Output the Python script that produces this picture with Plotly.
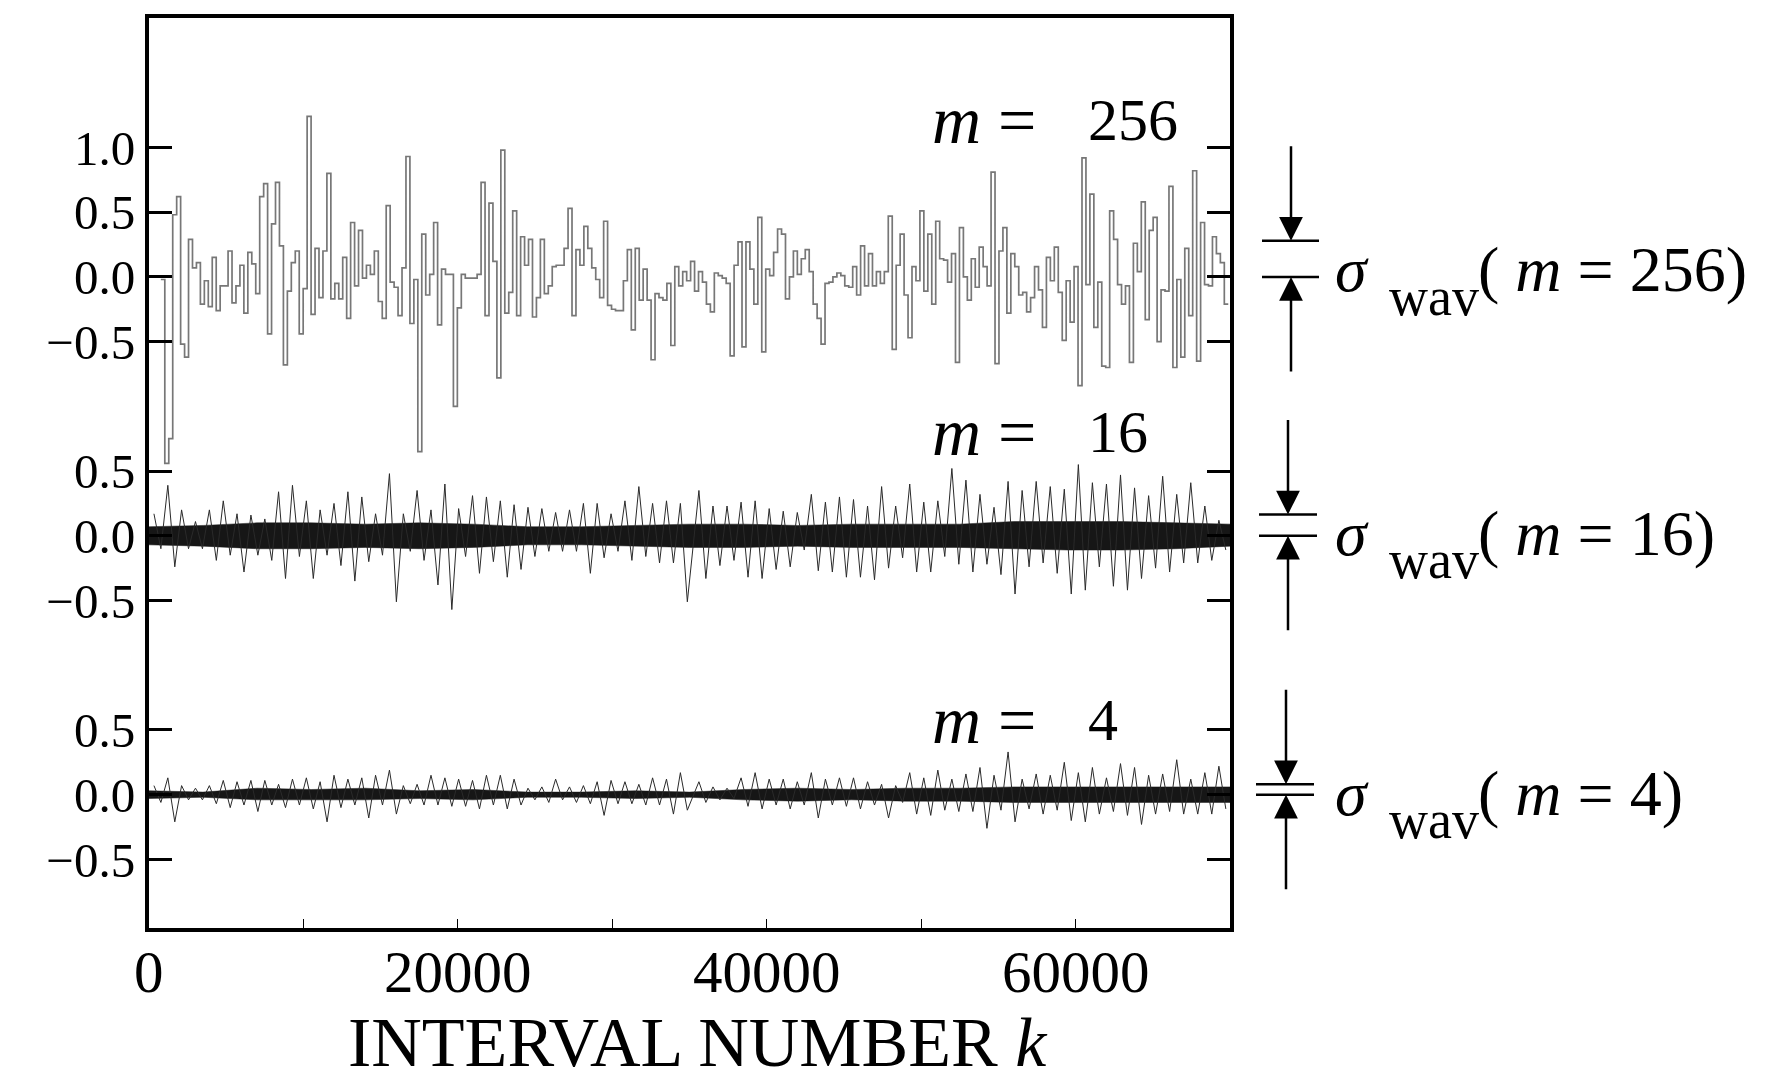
import plotly.graph_objects as go

# ---------------- data ----------------
K_MAX = 70000                      # interval-number axis end
M256_START_K = 768                 # first block of the m=256 trace
M256_STEP = 256                    # block length (m = 256)
M256_VALUES = [
    -0.02, -1.44, -1.25, 0.48, 0.62, -0.52, -0.62, 0.29, 0.07, 0.11,
    -0.21, -0.03, -0.23, 0.15, -0.26, -0.07, -0.07, 0.20, -0.20, -0.07,
    0.09, -0.28, 0.19, 0.10, -0.13, 0.62, 0.72, -0.44, 0.41, 0.73,
    0.24, -0.68, -0.11, 0.11, 0.20, -0.44, -0.09, 1.24, -0.29, 0.22,
    -0.16, 0.20, 0.80, -0.17, -0.05, -0.17, 0.15, -0.32, 0.42, -0.07,
    0.36, -0.01, 0.09, 0.02, 0.20, -0.19, -0.32, 0.55, -0.04, -0.08,
    -0.30, 0.07, 0.93, -0.36, -0.02, -1.35,
    0.33, -0.14, 0.02, 0.42, -0.37, 0.06, 0.02, 0.02, -1.00, -0.24,
    0.02, -0.01, -0.01, -0.01, 0.02, 0.73, -0.30, 0.57, 0.12, -0.78,
    0.98, -0.28, -0.12, 0.51, -0.30, 0.31, 0.09, 0.29, -0.31, -0.16,
    0.29, -0.13, -0.07, 0.08, 0.09, 0.09, 0.22, 0.53, -0.30, 0.21,
    0.09, 0.39, 0.22, 0.07, -0.02, -0.16, 0.43, -0.22, -0.25, -0.26,
    -0.26, -0.03, 0.21, -0.41, 0.22, -0.18, 0.06, -0.18, -0.64, -0.13,
    -0.16, -0.18, -0.05, -0.53, 0.08, -0.07, 0.04, -0.03,
    0.12, -0.11, 0.04, -0.04, -0.21, -0.27, 0.03, 0.01, -0.01, -0.05,
    -0.61, 0.09, 0.27, -0.54, 0.27, 0.06, -0.21, 0.46, -0.58, 0.06,
    0.01, 0.19, 0.37, 0.33, -0.17, 0.00, 0.20, 0.02, 0.14, 0.21,
    0.04, -0.21, -0.32, -0.52, -0.05, -0.04, 0.00, 0.03, 0.01, -0.07,
    -0.08, 0.08, -0.14, 0.24, -0.07, 0.18, -0.07, 0.04, -0.05, 0.04,
    0.47, -0.56, 0.09, 0.33, -0.14, -0.47, 0.08, -0.03, 0.51, -0.11,
    0.33, -0.21, 0.43, 0.14, 0.13, -0.04, 0.18, -0.66, 0.38,
    0.00, -0.18, 0.14, -0.08, 0.23, 0.08, -0.07, 0.81, -0.67, 0.20,
    0.38, -0.28, 0.18, 0.08, -0.14, -0.12, -0.27, -0.16, 0.08, -0.10,
    -0.39, 0.15, -0.03, 0.23, -0.12, -0.49, -0.03, -0.35, 0.08, -0.84,
    0.92, -0.06, 0.64, -0.39, -0.04, -0.69, -0.70, 0.51, 0.29, -0.06,
    -0.21, -0.07, -0.66, 0.26, 0.04, 0.58, -0.33, 0.36, 0.46, -0.50,
    -0.10, -0.11, 0.70, -0.70, -0.02, -0.62, 0.22, -0.30, 0.82, -0.65,
    0.42, -0.06, -0.07, 0.31, 0.18, 0.11, -0.21,
]

# positions (interval number k) of the read-off extreme excursions
SPIKE_K = [
    320, 1220, 2110, 3010, 3910, 4810, 5700, 6600, 7500, 8390,
    9290, 10190, 11080, 11980, 12880, 13780, 14670, 15570, 16470, 17360,
    18260, 19160, 20050, 20950, 21850, 22750, 23640, 24540, 25440, 26330,
    27230, 28130, 29020, 29920, 30820, 31720, 32610, 33510, 34410,
    35610, 36520, 37430, 38340, 39250, 40160, 41070, 41980, 42890, 43800,
    44710, 45620, 46530, 47440, 48350, 49260, 50170, 51080, 51990, 52900,
    53810, 54720, 55630, 56540, 57450, 58360, 59270, 60180, 61090, 62000,
    62910, 63820, 64730, 65640, 66550, 67460, 68370, 69280,
]
M16_UP = [
    0.17, 0.39, 0.20, 0.11, 0.20, 0.27, 0.17, 0.16, 0.13, 0.34,
    0.39, 0.27, 0.20, 0.25, 0.34, 0.30, 0.17, 0.48, 0.17, 0.35,
    0.20, 0.40, 0.21, 0.31, 0.30, 0.27, 0.24, 0.22, 0.21, 0.18,
    0.20, 0.25, 0.25, 0.17, 0.27, 0.38, 0.25, 0.27, 0.25,
    0.35, 0.23, 0.23, 0.26, 0.27, 0.21, 0.19, 0.18, 0.32, 0.26,
    0.30, 0.28, 0.23, 0.38, 0.23, 0.40, 0.26, 0.27, 0.52, 0.43,
    0.32, 0.22, 0.42, 0.35, 0.42, 0.38, 0.36, 0.55, 0.41, 0.40,
    0.47, 0.37, 0.31, 0.46, 0.32, 0.41, 0.23, 0.12,
]
M16_DOWN = [
    -0.10, -0.24, -0.10, -0.10, -0.19, -0.15, -0.28, -0.15, -0.19, -0.33,
    -0.16, -0.33, -0.15, -0.23, -0.35, -0.20, -0.15, -0.51, -0.12, -0.19,
    -0.38, -0.57, -0.16, -0.29, -0.20, -0.32, -0.26, -0.16, -0.12, -0.12,
    -0.12, -0.29, -0.17, -0.12, -0.19, -0.16, -0.21, -0.21, -0.51,
    -0.33, -0.23, -0.19, -0.32, -0.33, -0.26, -0.24, -0.11, -0.27, -0.28,
    -0.32, -0.32, -0.34, -0.25, -0.17, -0.28, -0.28, -0.16, -0.22, -0.28,
    -0.22, -0.30, -0.45, -0.24, -0.21, -0.29, -0.45, -0.42, -0.24, -0.39,
    -0.42, -0.33, -0.25, -0.28, -0.21, -0.21, -0.19, -0.11,
]
M4_UP = [
    0.07, 0.13, 0.07, 0.05, 0.07, 0.11, 0.10, 0.11, 0.11, 0.08,
    0.12, 0.13, 0.10, 0.15, 0.12, 0.13, 0.15, 0.19, 0.07, 0.08,
    0.15, 0.13, 0.12, 0.11, 0.15, 0.15, 0.12, 0.05, 0.06, 0.12,
    0.06, 0.07, 0.10, 0.11, 0.10, 0.08, 0.13, 0.12, 0.17,
    0.10, 0.06, 0.05, 0.13, 0.17, 0.12, 0.12, 0.10, 0.17, 0.12,
    0.13, 0.13, 0.10, 0.08, 0.07, 0.17, 0.13, 0.19, 0.12, 0.16,
    0.21, 0.15, 0.33, 0.12, 0.16, 0.15, 0.25, 0.17, 0.21, 0.13,
    0.24, 0.21, 0.15, 0.16, 0.27, 0.12, 0.17, 0.22,
]
M4_DOWN = [
    -0.06, -0.21, -0.04, -0.04, -0.07, -0.10, -0.08, -0.13, -0.08, -0.10,
    -0.08, -0.11, -0.21, -0.10, -0.08, -0.18, -0.08, -0.15, -0.07, -0.08,
    -0.08, -0.09, -0.09, -0.11, -0.08, -0.11, -0.08, -0.04, -0.06, -0.04,
    -0.06, -0.07, -0.16, -0.07, -0.07, -0.08, -0.08, -0.15, -0.12,
    -0.06, -0.04, -0.03, -0.09, -0.11, -0.08, -0.11, -0.08, -0.18, -0.08,
    -0.09, -0.11, -0.08, -0.18, -0.06, -0.15, -0.16, -0.12, -0.13, -0.13,
    -0.26, -0.12, -0.21, -0.11, -0.15, -0.12, -0.20, -0.21, -0.15, -0.13,
    -0.16, -0.23, -0.15, -0.13, -0.15, -0.15, -0.15, -0.11,
]

# dense-core envelope of the m=16 and m=4 traces
CORE_K = [0, 3500, 7000, 10500, 14000, 17500, 21000, 24500, 28000, 31500, 35000,
          38500, 42000, 45500, 49000, 52500, 56000, 59500, 63000, 66500, 70000]
M16_CORE_UP = [0.07, 0.08, 0.10, 0.10, 0.09, 0.10, 0.09, 0.07, 0.07, 0.08, 0.09,
               0.09, 0.08, 0.09, 0.09, 0.09, 0.11, 0.11, 0.11, 0.10, 0.09]
M16_CORE_LO = [-0.07, -0.08, -0.10, -0.10, -0.09, -0.10, -0.09, -0.07, -0.07, -0.08, -0.09,
               -0.09, -0.08, -0.09, -0.09, -0.09, -0.10, -0.11, -0.11, -0.10, -0.08]
M4_CORE_UP = [0.03, 0.02, 0.05, 0.04, 0.05, 0.03, 0.04, 0.02, 0.02, 0.03, 0.02,
              0.04, 0.05, 0.04, 0.05, 0.05, 0.06, 0.06, 0.06, 0.06, 0.06]
M4_CORE_LO = [-0.03, -0.02, -0.04, -0.04, -0.04, -0.03, -0.04, -0.02, -0.02, -0.03, -0.02,
              -0.04, -0.05, -0.04, -0.05, -0.05, -0.06, -0.06, -0.06, -0.06, -0.06]

OFFSETS = [0.0, -2.0, -4.0]        # vertical offset of each trace (m = 256, 16, 4)
M_LABELS = ["256", "16", "4"]
SIGMA_WAV = [0.28, 0.165, 0.08]    # bracket height drawn at right
LOCAL_TICKS = [[1.0, 0.5, 0.0, -0.5], [0.5, 0.0, -0.5], [0.5, 0.0, -0.5]]
X_TICKS = [0, 10000, 20000, 30000, 40000, 50000, 60000, 70000]
X_TICKTEXT = ["0", "", "20000", "", "40000", "", "60000", ""]

# ---------------- layout geometry (page pixels) ----------------
W, H = 1774, 1083
BODY = 8                            # default page margin around the plot div
PL, PR, PT, PB = 149, 1230, 14, 928
Y_RANGE = [-5.03, 2.0]
FONT = "Liberation Serif"


def px_x(px):
    return (px - PL) / (PR - PL)


def px_y(py):
    return (PB - py) / (PB - PT)


UNIT_PX = (PB - PT) / (Y_RANGE[1] - Y_RANGE[0])

fig = go.Figure()

# m = 256 : step trace
xs = [M256_START_K + M256_STEP * i for i in range(len(M256_VALUES) + 1)]
ys = [OFFSETS[0] + v for v in M256_VALUES] + [OFFSETS[0] + M256_VALUES[-1]]
fig.add_trace(go.Scatter(x=xs, y=ys, mode="lines", line_shape="hv",
                         line=dict(color="#777777", width=1.7),
                         hoverinfo="skip", showlegend=False))

# m = 16 and m = 4 : dense traces = core band + excursions (zig-zag)
for off, cu, cl, up, dn in [(OFFSETS[1], M16_CORE_UP, M16_CORE_LO, M16_UP, M16_DOWN),
                            (OFFSETS[2], M4_CORE_UP, M4_CORE_LO, M4_UP, M4_DOWN)]:
    fig.add_trace(go.Scatter(x=CORE_K + CORE_K[::-1],
                             y=[off + v for v in cu] + [off + v for v in cl[::-1]],
                             mode="lines", fill="toself", fillcolor="#161616",
                             line=dict(color="#161616", width=0.5),
                             hoverinfo="skip", showlegend=False))
    sx, sy = [], []
    for k, u, d in zip(SPIKE_K, up, dn):
        sx += [k, k + 450]
        sy += [off + u, off + d]
    fig.add_trace(go.Scatter(x=sx, y=sy, mode="lines",
                             line=dict(color="#2a2a2a", width=1.0),
                             hoverinfo="skip", showlegend=False))

# y ticks
tickvals, ticktext = [], []
for off, loc in zip(OFFSETS, LOCAL_TICKS):
    for v in loc:
        tickvals.append(off + v)
        ticktext.append(f"{v:.1f}".replace("-", "\u2212"))

fig.update_xaxes(range=[0, K_MAX], tickvals=X_TICKS, showticklabels=False,
                 ticks="inside", ticklen=9, tickwidth=1.2, tickcolor="black",
                 showline=True, linewidth=4, linecolor="black", mirror=True,
                 showgrid=False, zeroline=False)
fig.update_yaxes(range=Y_RANGE, tickvals=tickvals, ticktext=ticktext,
                 ticks="inside", ticklen=23, tickwidth=3, tickcolor="black",
                 showline=True, linewidth=4, linecolor="black", mirror="ticks",
                 showgrid=False, zeroline=False, ticklabelstandoff=0,
                 tickfont=dict(family=FONT, size=49, color="black"))

ann = []
# x tick labels (placed as text under the axis)
for xv, tt in zip(X_TICKS, X_TICKTEXT):
    if tt:
        ann.append(dict(x=xv, y=px_y(972), xref="x", yref="paper", text=tt,
                        showarrow=False, xanchor="center", yanchor="middle",
                        font=dict(family=FONT, size=59, color="black")))
# x-axis title
ann.append(dict(x=px_x(698), y=px_y(1043), xref="paper", yref="paper",
                text="INTERVAL NUMBER <i>k</i>", showarrow=False,
                xanchor="center", yanchor="middle",
                font=dict(family=FONT, size=70, color="black")))

LABEL_DY = [1.21, 0.80, 0.58]
for off, lab, dy in zip(OFFSETS, M_LABELS, LABEL_DY):
    ann.append(dict(x=px_x(930), y=off + dy, xref="paper", yref="y",
                    text="<i>m</i> =", showarrow=False, xanchor="left",
                    yanchor="middle", font=dict(family=FONT, size=68, color="black")))
    ann.append(dict(x=px_x(1086), y=off + dy, xref="paper", yref="y",
                    text=lab, showarrow=False, xanchor="left",
                    yanchor="middle", font=dict(family=FONT, size=60, color="black")))

shapes = []
ARROW_PX = [1291, 1288, 1286]
BAR_X0 = [1262, 1259, 1256]
BAR_X1 = [1319, 1317, 1314]
TEXT_DY = [0.054, 0.02, 0.01]
SHAFT = 96
TXT = 64
for off, sig, lab, ax_px, bx0, bx1, tdy in zip(OFFSETS, SIGMA_WAV, M_LABELS, ARROW_PX,
                                               BAR_X0, BAR_X1, TEXT_DY):
    top = off + sig
    for yy in (top, off):
        shapes.append(dict(type="line", xref="paper", yref="y",
                           x0=px_x(bx0), x1=px_x(bx1), y0=yy, y1=yy,
                           line=dict(color="black", width=2.5)))
    ann.append(dict(x=px_x(ax_px), y=top, xref="paper", yref="y", text="",
                    showarrow=True, ax=0, ay=-SHAFT, arrowhead=2, arrowsize=1.9,
                    arrowwidth=2.5, arrowcolor="black", standoff=0))
    ann.append(dict(x=px_x(ax_px), y=off, xref="paper", yref="y", text="",
                    showarrow=True, ax=0, ay=SHAFT, arrowhead=2, arrowsize=1.9,
                    arrowwidth=2.5, arrowcolor="black", standoff=0))
    yc = off + tdy
    ann.append(dict(x=px_x(1333), y=yc, xref="paper", yref="y",
                    text="<i>σ</i>", showarrow=False, xanchor="left", yanchor="middle",
                    font=dict(family=FONT, size=TXT, color="black")))
    ann.append(dict(x=px_x(1387), y=yc - 27 / UNIT_PX, xref="paper", yref="y",
                    text="wav", showarrow=False, xanchor="left", yanchor="middle",
                    font=dict(family=FONT, size=54, color="black")))
    ann.append(dict(x=px_x(1476), y=yc, xref="paper", yref="y",
                    text=f"( <i>m</i> = {lab})", showarrow=False,
                    xanchor="left", yanchor="middle",
                    font=dict(family=FONT, size=TXT, color="black")))

# the page adds an 8 px body margin, so the figure margins are reduced by it
fig.update_layout(width=W, height=H, autosize=False,
                  margin=dict(l=PL - BODY, r=W - (PR - BODY), t=PT - BODY,
                              b=H - (PB - BODY), pad=0),
                  paper_bgcolor="white", plot_bgcolor="white",
                  annotations=ann, shapes=shapes, showlegend=False)

fig.write_html("out.html")
